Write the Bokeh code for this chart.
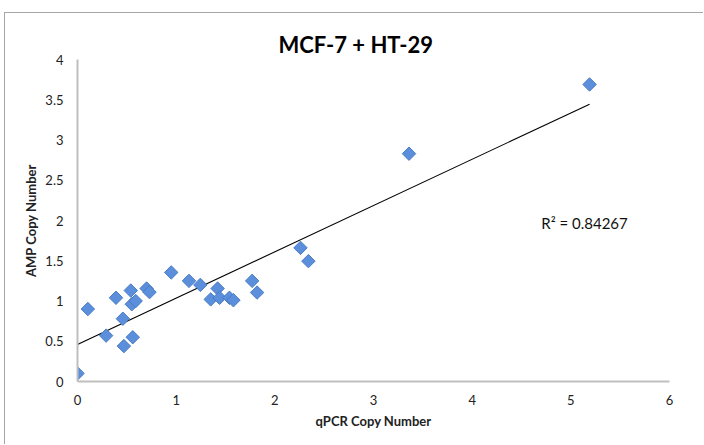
import numpy as np
from bokeh.plotting import figure
from bokeh.models import Range1d, Label, FixedTicker, Title
from bokeh.embed import file_html
from bokeh.resources import INLINE

qpcr = [0.00, 0.105, 0.29, 0.39, 0.46, 0.47, 0.54, 0.55, 0.59, 0.56, 0.70, 0.73,
        0.95, 1.13, 1.245, 1.35, 1.42, 1.44, 1.54, 1.58, 1.77, 1.82, 2.26, 2.34,
        3.36, 5.19]
amp = [0.10, 0.90, 0.57, 1.04, 0.78, 0.44, 1.13, 0.96, 1.00, 0.55, 1.155, 1.11,
       1.355, 1.25, 1.20, 1.02, 1.155, 1.04, 1.04, 1.01, 1.25, 1.105, 1.66, 1.495,
       2.83, 3.69]
x_ticks = [0, 1, 2, 3, 4, 5, 6]
y_ticks = [0, 0.5, 1, 1.5, 2, 2.5, 3, 3.5, 4]
title_text = "MCF-7 + HT-29"
r2_text = "R² = 0.84267"

FONT = "Lato"

p = figure(width=699, height=432, output_backend="svg", toolbar_location=None,
           x_range=Range1d(0, 6), y_range=Range1d(0, 4), title=None,
           min_border_left=72, min_border_right=35, min_border_top=46, min_border_bottom=64)
p.styles = {"margin-left": "4px", "margin-top": "12px",
            "border-top": "1px solid #a6a6a6", "border-left": "1px solid #a6a6a6"}
p.outline_line_color = None
p.xgrid.visible = False
p.ygrid.visible = False
p.background_fill_color = "white"
p.border_fill_color = "white"

for ax in (p.xaxis[0], p.yaxis[0]):
    ax.axis_line_color = "#bfbfbf"
    ax.axis_line_width = 2
    ax.major_tick_line_color = None
    ax.minor_tick_line_color = None
    ax.major_label_text_font = FONT
    ax.major_label_text_font_size = "13px"
    ax.major_label_text_color = "#222222"
    ax.axis_label_text_font = FONT
    ax.axis_label_text_font_size = "13px"
    ax.axis_label_text_font_style = "bold"
    ax.axis_label_text_color = "#222222"

p.xaxis.ticker = FixedTicker(ticks=x_ticks)
p.yaxis.ticker = FixedTicker(ticks=y_ticks)
p.xaxis.axis_label = "qPCR Copy Number"
p.yaxis.axis_label = "AMP Copy Number"
p.xaxis.major_label_standoff = 7
p.yaxis.major_label_standoff = 8
p.xaxis.axis_label_standoff = 5
p.yaxis.axis_label_standoff = 3

# trend line
xs = np.array(qpcr)
ys = np.array(amp)
m, b = np.polyfit(xs, ys, 1)
p.line([0, xs.max()], [b, m * xs.max() + b], line_color="black", line_width=1.1)

p.scatter(qpcr, amp, marker="square", size=9.5, angle=np.pi / 4,
          fill_color="#5b8fdc", line_color="#4a7cc4", line_width=1)

p.add_layout(Label(x=4.70, y=1.97, text=r2_text, text_font=FONT, text_font_size="15px",
                   text_color="#111111", text_baseline="middle"))
p.add_layout(Title(text=title_text, align="left", offset=201, text_font=FONT,
                   text_font_size="22px", text_font_style="bold", text_color="black",
                   standoff=4), "above")

open("out.html", "w").write(file_html(p, INLINE))
